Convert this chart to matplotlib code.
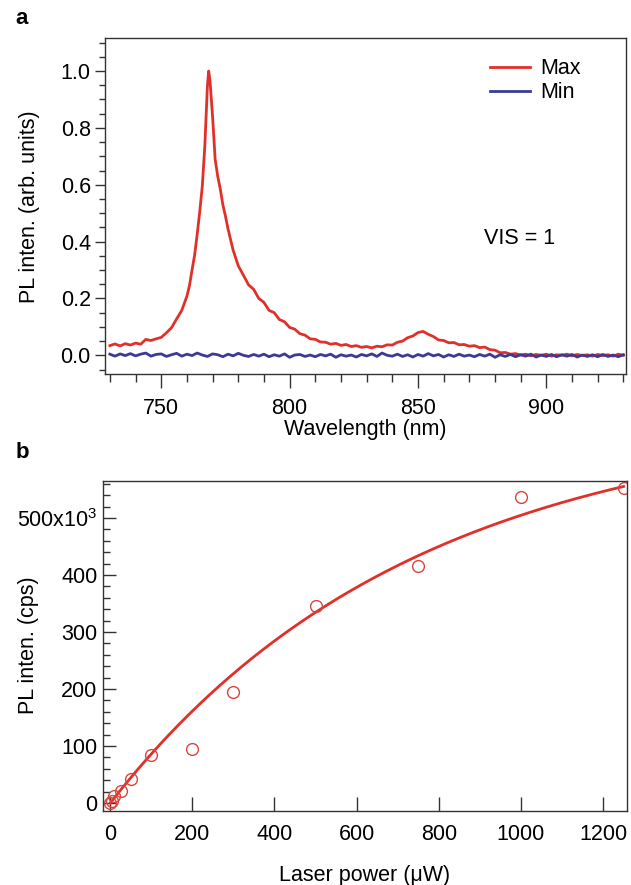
import numpy as np
import matplotlib
matplotlib.use("Agg")
import matplotlib.pyplot as plt
from matplotlib.ticker import MultipleLocator, FixedLocator, FixedFormatter

plt.rcParams['font.family'] = ['Liberation Sans', 'DejaVu Sans']
plt.rcParams['mathtext.default'] = 'regular'
plt.rcParams['font.size'] = 15.5

# -----------------------------
# data, panel a (PL spectra)
# -----------------------------
max_wl = [730, 732, 734, 736, 738, 740, 742, 744, 746, 748, 750, 752, 754, 756, 758,
          760, 761, 762, 763, 764, 765, 766, 767, 768, 768.5, 769, 770, 771, 772, 773,
          774, 775, 776, 778, 780, 782, 784, 786, 788, 790, 792, 794, 796, 798, 800,
          802, 804, 806, 808, 810, 812, 814, 816, 818, 820, 822, 824, 826, 828, 830,
          832, 834, 836, 838, 840, 842, 844, 846, 848, 850, 852, 854, 856, 858, 860,
          862, 864, 866, 868, 870, 872, 874, 876, 878, 880, 882, 884, 886, 888, 890,
          892, 894, 896, 898, 900, 902, 904, 906, 908, 910, 912, 914, 916, 918, 920,
          922, 924, 926, 928, 930]
max_pl = [0.034, 0.040, 0.033, 0.041, 0.036, 0.043, 0.039, 0.056, 0.052, 0.058, 0.063, 0.079, 0.097, 0.128, 0.158,
          0.208, 0.245, 0.300, 0.352, 0.425, 0.505, 0.595, 0.740, 0.950, 1.000, 0.965, 0.840, 0.690, 0.630, 0.585,
          0.530, 0.490, 0.445, 0.370, 0.315, 0.282, 0.248, 0.232, 0.200, 0.186, 0.158, 0.150, 0.126, 0.118, 0.098,
          0.092, 0.076, 0.071, 0.058, 0.056, 0.047, 0.046, 0.039, 0.042, 0.035, 0.038, 0.031, 0.034, 0.028, 0.031,
          0.026, 0.032, 0.030, 0.037, 0.036, 0.046, 0.050, 0.062, 0.068, 0.080, 0.084, 0.074, 0.066, 0.054, 0.052,
          0.044, 0.045, 0.037, 0.038, 0.032, 0.034, 0.027, 0.029, 0.020, 0.018, 0.009, 0.010, 0.004, 0.006, 0.001,
          0.004, -0.002, 0.003, 0.000, 0.004, -0.003, 0.002, 0.000, 0.004, -0.002, 0.003, -0.001, 0.002, -0.003, 0.003,
          -0.001, 0.002, -0.003, 0.004, 0.000]

min_wl = np.arange(730, 931, 2)
min_pl = [0.004, -0.003, 0.005, -0.001, 0.006, -0.002, 0.004, 0.008, -0.003, 0.003,
          0.005, -0.004, 0.002, 0.007, -0.003, 0.004, -0.001, 0.008, 0.001, -0.004,
          0.005, 0.002, -0.005, 0.004, -0.002, 0.007, 0.000, -0.004, 0.003, -0.003,
          0.004, -0.005, 0.002, -0.003, 0.005, -0.007, 0.001, 0.003, -0.004, 0.001,
          -0.005, 0.003, -0.002, 0.004, -0.007, 0.002, -0.003, 0.001, -0.006, 0.003,
          -0.002, 0.005, -0.004, 0.008, 0.000, -0.003, 0.004, -0.004, 0.002, -0.006,
          0.003, -0.003, 0.006, -0.002, 0.003, -0.006, 0.002, -0.004, 0.004, -0.003,
          0.001, -0.005, 0.003, -0.003, 0.004, -0.007, 0.002, -0.004, 0.003, -0.005,
          0.002, -0.003, 0.004, -0.006, 0.001, -0.004, 0.003, -0.005, 0.002, -0.003,
          0.003, -0.006, 0.001, -0.004, 0.002, -0.005, 0.003, -0.004, 0.001, -0.005,
          0.002]

# -----------------------------
# data, panel b (power dependence, intensity in 10^3 cps)
# -----------------------------
power = [0, 5, 10, 25, 50, 100, 200, 300, 500, 750, 1000, 1250]
intensity = [0, 4, 12, 21, 42, 84, 94, 194, 346, 415, 537, 552]

# saturation fit I = I_sat * (1 - exp(-P / P_0)), parameters
I_SAT = 681.0
P_0 = 740.0
p_fit = np.linspace(0, 1250, 300)
i_fit = I_SAT * (1 - np.exp(-p_fit / P_0))

red = '#e0302a'
blue = '#3b3b96'
spine_col = '#333333'

fig = plt.figure(figsize=(6.31, 8.85), dpi=100)

# -----------------------------
# panel a
# -----------------------------
ax1 = fig.add_axes([0.166, 0.577, 0.826, 0.380])
ax1.plot(max_wl, max_pl, color=red, lw=2, label='Max')
ax1.plot(min_wl, min_pl, color=blue, lw=2, label='Min')
ax1.set_xlim(728, 931)
ax1.set_ylim(-0.067, 1.116)
ax1.xaxis.set_major_locator(MultipleLocator(50))
ax1.xaxis.set_minor_locator(MultipleLocator(10))
ax1.yaxis.set_major_locator(MultipleLocator(0.2))
ax1.yaxis.set_minor_locator(MultipleLocator(0.05))
ax1.yaxis.set_major_formatter(plt.FormatStrFormatter('%.1f'))
ax1.tick_params(which='both', direction='out', color=spine_col, width=1)
ax1.tick_params(axis='y', which='major', length=7, pad=3)
ax1.tick_params(axis='y', which='minor', length=4)
ax1.tick_params(axis='x', which='major', length=10, pad=7)
ax1.tick_params(axis='x', which='minor', length=6)
for s in ax1.spines.values():
    s.set_color(spine_col)
    s.set_linewidth(1)
ax1.set_xlabel('Wavelength (nm)', labelpad=0)
ax1.set_ylabel('PL inten. (arb. units)')
ax1.yaxis.set_label_coords(-0.125, 0.5)
ax1.legend(loc='upper left', bbox_to_anchor=(0.739, 0.94), frameon=False,
           handlelength=1.85, handletextpad=0.5, borderpad=0, borderaxespad=0,
           labelspacing=0.15)
ax1.text(0.795, 0.405, 'VIS = 1', transform=ax1.transAxes, ha='center', va='center')
fig.text(0.025, 0.979, 'a', fontsize=16, fontweight='bold', va='center')

# -----------------------------
# panel b
# -----------------------------
ax2 = fig.add_axes([0.163, 0.0836, 0.831, 0.373])
ax2.plot(p_fit, i_fit, color=red, lw=2)
ax2.plot(power, intensity, 'o', mfc='none', mec='#d9453c', ms=8.5, mew=1)
ax2.set_xlim(-18, 1259)
ax2.set_ylim(-14, 565)
ax2.xaxis.set_major_locator(MultipleLocator(200))
ax2.yaxis.set_major_locator(FixedLocator([0, 100, 200, 300, 400, 500]))
ax2.yaxis.set_major_formatter(FixedFormatter(['0', '100', '200', '300', '400', '500x10$^{3}$']))
ax2.yaxis.set_minor_locator(MultipleLocator(20))
ax2.tick_params(which='both', direction='in', color=spine_col, width=1)
ax2.tick_params(axis='y', which='major', length=9, pad=4)
ax2.tick_params(axis='y', which='minor', length=5)
ax2.tick_params(axis='x', which='major', length=10, pad=9.5)
for s in ax2.spines.values():
    s.set_color(spine_col)
    s.set_linewidth(1)
ax2.set_xlabel('Laser power (\u03bcW)', labelpad=14)
ax2.set_ylabel('PL inten. (cps)')
ax2.yaxis.set_label_coords(-0.122, 0.503)
fig.text(0.025, 0.489, 'b', fontsize=16, fontweight='bold', va='center')

fig.savefig('out.png', dpi=100)
